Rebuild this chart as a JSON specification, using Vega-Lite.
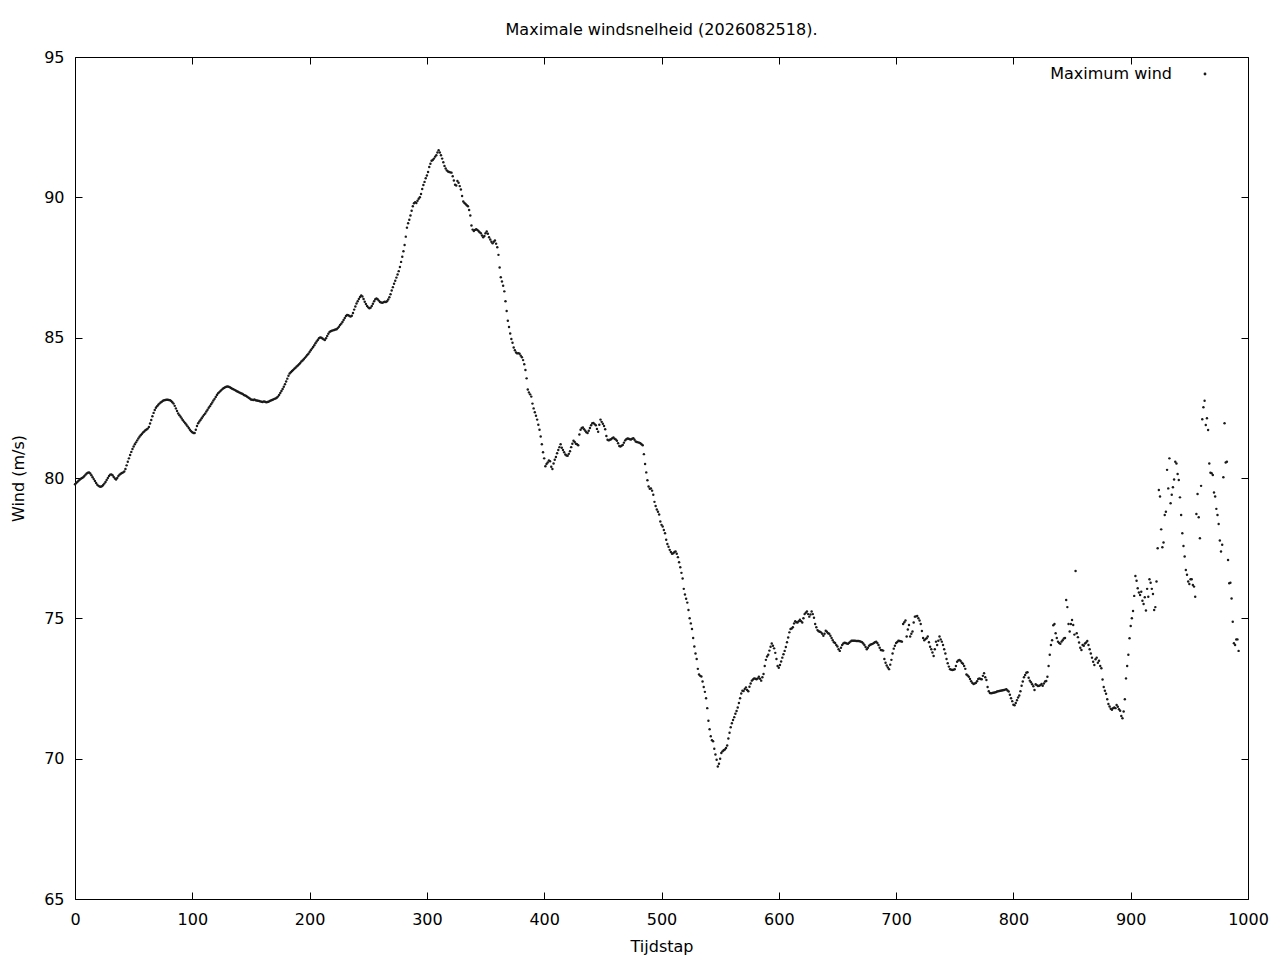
{
  "$schema": "https://vega.github.io/schema/vega-lite/v6.json",
  "width": 1173,
  "height": 842,
  "autosize": "none",
  "padding": {"left": 75, "top": 57, "right": 32, "bottom": 61},
  "background": "white",
  "title": {"text": "Maximale windsnelheid (2026082518).", "font": "DejaVu Sans", "fontSize": 16, "fontWeight": "normal", "color": "#000", "offset": 11},
  "datasets": {
    "wind": [
{"t":0,"w":79.78},{"t":1,"w":79.82},{"t":2,"w":79.86},{"t":3,"w":79.9},{"t":4,"w":79.94},{"t":5,"w":79.97},{"t":6,"w":80.0},{"t":7,"w":80.03},{"t":8,"w":80.07},{"t":9,"w":80.12},
{"t":10,"w":80.16},{"t":11,"w":80.19},{"t":12,"w":80.2},{"t":13,"w":80.16},{"t":14,"w":80.1},{"t":15,"w":80.03},{"t":16,"w":79.96},{"t":17,"w":79.89},{"t":18,"w":79.82},{"t":19,"w":79.76},
{"t":20,"w":79.72},{"t":21,"w":79.7},{"t":22,"w":79.69},{"t":23,"w":79.71},{"t":24,"w":79.75},{"t":25,"w":79.8},{"t":26,"w":79.86},{"t":27,"w":79.93},{"t":28,"w":80.0},{"t":29,"w":80.07},
{"t":30,"w":80.12},{"t":31,"w":80.13},{"t":32,"w":80.1},{"t":33,"w":80.04},{"t":34,"w":79.98},{"t":35,"w":79.95},{"t":36,"w":80.0},{"t":37,"w":80.07},{"t":38,"w":80.12},{"t":39,"w":80.15},
{"t":40,"w":80.18},{"t":41,"w":80.2},{"t":42,"w":80.23},{"t":43,"w":80.32},{"t":44,"w":80.45},{"t":45,"w":80.58},{"t":46,"w":80.7},{"t":47,"w":80.82},{"t":48,"w":80.93},{"t":49,"w":81.03},
{"t":50,"w":81.12},{"t":51,"w":81.2},{"t":52,"w":81.27},{"t":53,"w":81.34},{"t":54,"w":81.41},{"t":55,"w":81.47},{"t":56,"w":81.52},{"t":57,"w":81.57},{"t":58,"w":81.62},{"t":59,"w":81.66},
{"t":60,"w":81.7},{"t":61,"w":81.73},{"t":62,"w":81.76},{"t":63,"w":81.82},{"t":64,"w":81.94},{"t":65,"w":82.07},{"t":66,"w":82.2},{"t":67,"w":82.32},{"t":68,"w":82.42},{"t":69,"w":82.5},
{"t":70,"w":82.56},{"t":71,"w":82.61},{"t":72,"w":82.65},{"t":73,"w":82.69},{"t":74,"w":82.72},{"t":75,"w":82.75},{"t":76,"w":82.77},{"t":77,"w":82.78},{"t":78,"w":82.79},{"t":79,"w":82.79},
{"t":80,"w":82.78},{"t":81,"w":82.77},{"t":82,"w":82.74},{"t":83,"w":82.7},{"t":84,"w":82.65},{"t":85,"w":82.57},{"t":86,"w":82.48},{"t":87,"w":82.39},{"t":88,"w":82.3},{"t":89,"w":82.24},
{"t":90,"w":82.18},{"t":91,"w":82.12},{"t":92,"w":82.06},{"t":93,"w":82.0},{"t":94,"w":81.95},{"t":95,"w":81.9},{"t":96,"w":81.84},{"t":97,"w":81.78},{"t":98,"w":81.72},{"t":99,"w":81.67},
{"t":100,"w":81.63},{"t":101,"w":81.6},{"t":102,"w":81.6},{"t":103,"w":81.72},{"t":104,"w":81.85},{"t":105,"w":81.95},{"t":106,"w":82.01},{"t":107,"w":82.07},{"t":108,"w":82.13},{"t":109,"w":82.19},
{"t":110,"w":82.25},{"t":111,"w":82.3},{"t":112,"w":82.37},{"t":113,"w":82.43},{"t":114,"w":82.5},{"t":115,"w":82.56},{"t":116,"w":82.63},{"t":117,"w":82.69},{"t":118,"w":82.76},{"t":119,"w":82.82},
{"t":120,"w":82.89},{"t":121,"w":82.96},{"t":122,"w":83.02},{"t":123,"w":83.06},{"t":124,"w":83.1},{"t":125,"w":83.14},{"t":126,"w":83.18},{"t":127,"w":83.21},{"t":128,"w":83.23},{"t":129,"w":83.25},
{"t":130,"w":83.26},{"t":131,"w":83.25},{"t":132,"w":83.23},{"t":133,"w":83.21},{"t":134,"w":83.18},{"t":135,"w":83.16},{"t":136,"w":83.14},{"t":137,"w":83.12},{"t":138,"w":83.09},{"t":139,"w":83.07},
{"t":140,"w":83.05},{"t":141,"w":83.03},{"t":142,"w":83.01},{"t":143,"w":82.99},{"t":144,"w":82.96},{"t":145,"w":82.94},{"t":146,"w":82.92},{"t":147,"w":82.89},{"t":148,"w":82.86},{"t":149,"w":82.83},
{"t":150,"w":82.8},{"t":151,"w":82.79},{"t":152,"w":82.78},{"t":153,"w":82.8},{"t":154,"w":82.77},{"t":155,"w":82.76},{"t":156,"w":82.75},{"t":157,"w":82.74},{"t":158,"w":82.73},{"t":159,"w":82.72},
{"t":160,"w":82.71},{"t":161,"w":82.73},{"t":162,"w":82.72},{"t":163,"w":82.7},{"t":164,"w":82.71},{"t":165,"w":82.72},{"t":166,"w":82.74},{"t":167,"w":82.76},{"t":168,"w":82.78},{"t":169,"w":82.8},
{"t":170,"w":82.82},{"t":171,"w":82.83},{"t":172,"w":82.86},{"t":173,"w":82.9},{"t":174,"w":82.96},{"t":175,"w":83.03},{"t":176,"w":83.1},{"t":177,"w":83.17},{"t":178,"w":83.25},{"t":179,"w":83.34},
{"t":180,"w":83.44},{"t":181,"w":83.54},{"t":182,"w":83.64},{"t":183,"w":83.72},{"t":184,"w":83.77},{"t":185,"w":83.81},{"t":186,"w":83.85},{"t":187,"w":83.89},{"t":188,"w":83.93},{"t":189,"w":83.97},
{"t":190,"w":84.01},{"t":191,"w":84.05},{"t":192,"w":84.1},{"t":193,"w":84.15},{"t":194,"w":84.19},{"t":195,"w":84.23},{"t":196,"w":84.28},{"t":197,"w":84.33},{"t":198,"w":84.38},{"t":199,"w":84.43},
{"t":200,"w":84.49},{"t":201,"w":84.55},{"t":202,"w":84.61},{"t":203,"w":84.67},{"t":204,"w":84.73},{"t":205,"w":84.8},{"t":206,"w":84.86},{"t":207,"w":84.92},{"t":208,"w":84.98},{"t":209,"w":85.01},
{"t":210,"w":85.0},{"t":211,"w":84.97},{"t":212,"w":84.94},{"t":213,"w":84.92},{"t":214,"w":84.98},{"t":215,"w":85.06},{"t":216,"w":85.14},{"t":217,"w":85.2},{"t":218,"w":85.23},{"t":219,"w":85.25},
{"t":220,"w":85.26},{"t":221,"w":85.27},{"t":222,"w":85.29},{"t":223,"w":85.3},{"t":224,"w":85.34},{"t":225,"w":85.39},{"t":226,"w":85.45},{"t":227,"w":85.5},{"t":228,"w":85.56},{"t":229,"w":85.63},
{"t":230,"w":85.7},{"t":231,"w":85.77},{"t":232,"w":85.81},{"t":233,"w":85.8},{"t":234,"w":85.77},{"t":235,"w":85.75},{"t":236,"w":85.78},{"t":237,"w":85.88},{"t":238,"w":86.0},{"t":239,"w":86.11},
{"t":240,"w":86.22},{"t":241,"w":86.3},{"t":242,"w":86.38},{"t":243,"w":86.45},{"t":244,"w":86.5},{"t":245,"w":86.47},{"t":246,"w":86.38},{"t":247,"w":86.28},{"t":248,"w":86.2},{"t":249,"w":86.13},
{"t":250,"w":86.08},{"t":251,"w":86.05},{"t":252,"w":86.07},{"t":253,"w":86.13},{"t":254,"w":86.21},{"t":255,"w":86.3},{"t":256,"w":86.37},{"t":257,"w":86.4},{"t":258,"w":86.37},{"t":259,"w":86.32},
{"t":260,"w":86.27},{"t":261,"w":86.25},{"t":262,"w":86.24},{"t":263,"w":86.26},{"t":264,"w":86.28},{"t":265,"w":86.27},{"t":266,"w":86.3},{"t":267,"w":86.36},{"t":268,"w":86.44},{"t":269,"w":86.55},
{"t":270,"w":86.68},{"t":271,"w":86.8},{"t":272,"w":86.92},{"t":273,"w":87.03},{"t":274,"w":87.14},{"t":275,"w":87.25},{"t":276,"w":87.37},{"t":277,"w":87.52},{"t":278,"w":87.7},{"t":279,"w":87.88},
{"t":280,"w":88.08},{"t":281,"w":88.3},{"t":282,"w":88.6},{"t":283,"w":88.92},{"t":284,"w":89.08},{"t":285,"w":89.2},{"t":286,"w":89.35},{"t":287,"w":89.52},{"t":288,"w":89.68},{"t":289,"w":89.79},
{"t":290,"w":89.83},{"t":291,"w":89.8},{"t":292,"w":89.88},{"t":293,"w":89.95},{"t":294,"w":90.0},{"t":295,"w":90.12},{"t":296,"w":90.3},{"t":297,"w":90.44},{"t":298,"w":90.55},{"t":299,"w":90.68},
{"t":300,"w":90.78},{"t":301,"w":90.9},{"t":302,"w":91.08},{"t":303,"w":91.2},{"t":304,"w":91.3},{"t":305,"w":91.33},{"t":306,"w":91.38},{"t":307,"w":91.45},{"t":308,"w":91.5},{"t":309,"w":91.6},
{"t":310,"w":91.68},{"t":311,"w":91.6},{"t":312,"w":91.5},{"t":313,"w":91.38},{"t":314,"w":91.25},{"t":315,"w":91.12},{"t":316,"w":91.03},{"t":317,"w":90.96},{"t":318,"w":90.92},{"t":319,"w":90.9},
{"t":320,"w":90.89},{"t":321,"w":90.88},{"t":322,"w":90.75},{"t":323,"w":90.6},{"t":324,"w":90.45},{"t":325,"w":90.42},{"t":326,"w":90.58},{"t":327,"w":90.52},{"t":328,"w":90.4},{"t":329,"w":90.28},
{"t":330,"w":90.05},{"t":331,"w":89.85},{"t":332,"w":89.8},{"t":333,"w":89.76},{"t":334,"w":89.72},{"t":335,"w":89.68},{"t":336,"w":89.55},{"t":337,"w":89.35},{"t":338,"w":89.0},{"t":339,"w":88.85},
{"t":340,"w":88.8},{"t":341,"w":88.84},{"t":342,"w":88.86},{"t":343,"w":88.84},{"t":344,"w":88.8},{"t":345,"w":88.76},{"t":346,"w":88.72},{"t":347,"w":88.64},{"t":348,"w":88.58},{"t":349,"w":88.62},
{"t":350,"w":88.72},{"t":351,"w":88.78},{"t":352,"w":88.7},{"t":353,"w":88.58},{"t":354,"w":88.5},{"t":355,"w":88.42},{"t":356,"w":88.36},{"t":357,"w":88.42},{"t":358,"w":88.46},{"t":359,"w":88.35},
{"t":360,"w":88.22},{"t":361,"w":87.95},{"t":362,"w":87.5},{"t":363,"w":87.15},{"t":364,"w":87.0},{"t":365,"w":86.85},{"t":366,"w":86.65},{"t":367,"w":86.3},{"t":368,"w":85.95},{"t":369,"w":85.6},
{"t":370,"w":85.38},{"t":371,"w":85.15},{"t":372,"w":84.95},{"t":373,"w":84.82},{"t":374,"w":84.65},{"t":375,"w":84.55},{"t":376,"w":84.47},{"t":377,"w":84.44},{"t":378,"w":84.45},{"t":379,"w":84.43},
{"t":380,"w":84.36},{"t":381,"w":84.3},{"t":382,"w":84.2},{"t":383,"w":84.05},{"t":384,"w":83.85},{"t":385,"w":83.55},{"t":386,"w":83.15},{"t":387,"w":83.05},{"t":388,"w":82.98},{"t":389,"w":82.9},
{"t":390,"w":82.65},{"t":391,"w":82.48},{"t":392,"w":82.34},{"t":393,"w":82.22},{"t":394,"w":82.08},{"t":395,"w":81.9},{"t":396,"w":81.72},{"t":397,"w":81.48},{"t":398,"w":81.2},{"t":399,"w":80.92},
{"t":400,"w":80.7},{"t":401,"w":80.42},{"t":402,"w":80.5},{"t":403,"w":80.55},{"t":404,"w":80.62},{"t":405,"w":80.6},{"t":406,"w":80.4},{"t":407,"w":80.32},{"t":408,"w":80.52},{"t":409,"w":80.65},
{"t":410,"w":80.75},{"t":411,"w":80.88},{"t":412,"w":81.0},{"t":413,"w":81.1},{"t":414,"w":81.2},{"t":415,"w":81.08},{"t":416,"w":81.0},{"t":417,"w":80.92},{"t":418,"w":80.84},{"t":419,"w":80.8},
{"t":420,"w":80.79},{"t":421,"w":80.86},{"t":422,"w":80.95},{"t":423,"w":81.1},{"t":424,"w":81.22},{"t":425,"w":81.33},{"t":426,"w":81.28},{"t":427,"w":81.22},{"t":428,"w":81.2},{"t":429,"w":81.17},
{"t":430,"w":81.55},{"t":431,"w":81.72},{"t":432,"w":81.78},{"t":433,"w":81.8},{"t":434,"w":81.74},{"t":435,"w":81.68},{"t":436,"w":81.63},{"t":437,"w":81.6},{"t":438,"w":81.68},{"t":439,"w":81.78},
{"t":440,"w":81.88},{"t":441,"w":81.95},{"t":442,"w":81.96},{"t":443,"w":81.92},{"t":444,"w":81.88},{"t":445,"w":81.75},{"t":446,"w":81.65},{"t":447,"w":81.9},{"t":448,"w":82.08},{"t":449,"w":82.0},
{"t":450,"w":81.93},{"t":451,"w":81.85},{"t":452,"w":81.74},{"t":453,"w":81.5},{"t":454,"w":81.36},{"t":455,"w":81.34},{"t":456,"w":81.36},{"t":457,"w":81.38},{"t":458,"w":81.42},{"t":459,"w":81.44},
{"t":460,"w":81.4},{"t":461,"w":81.37},{"t":462,"w":81.33},{"t":463,"w":81.24},{"t":464,"w":81.14},{"t":465,"w":81.12},{"t":466,"w":81.15},{"t":467,"w":81.18},{"t":468,"w":81.26},{"t":469,"w":81.34},
{"t":470,"w":81.38},{"t":471,"w":81.41},{"t":472,"w":81.4},{"t":473,"w":81.38},{"t":474,"w":81.37},{"t":475,"w":81.4},{"t":476,"w":81.42},{"t":477,"w":81.36},{"t":478,"w":81.3},{"t":479,"w":81.28},
{"t":480,"w":81.27},{"t":481,"w":81.26},{"t":482,"w":81.24},{"t":483,"w":81.2},{"t":484,"w":81.17},{"t":485,"w":80.85},{"t":486,"w":80.5},{"t":487,"w":80.2},{"t":488,"w":79.92},{"t":489,"w":79.7},
{"t":490,"w":79.62},{"t":491,"w":79.63},{"t":492,"w":79.55},{"t":493,"w":79.4},{"t":494,"w":79.15},{"t":495,"w":79.0},{"t":496,"w":78.88},{"t":497,"w":78.8},{"t":498,"w":78.7},{"t":499,"w":78.45},
{"t":500,"w":78.33},{"t":501,"w":78.27},{"t":502,"w":78.15},{"t":503,"w":78.03},{"t":504,"w":77.8},{"t":505,"w":77.65},{"t":506,"w":77.55},{"t":507,"w":77.44},{"t":508,"w":77.36},{"t":509,"w":77.3},
{"t":510,"w":77.32},{"t":511,"w":77.36},{"t":512,"w":77.38},{"t":513,"w":77.3},{"t":514,"w":77.18},{"t":515,"w":77.0},{"t":516,"w":76.82},{"t":517,"w":76.62},{"t":518,"w":76.42},{"t":519,"w":76.05},
{"t":520,"w":75.85},{"t":521,"w":75.7},{"t":522,"w":75.56},{"t":523,"w":75.3},{"t":524,"w":75.0},{"t":525,"w":74.82},{"t":526,"w":74.62},{"t":527,"w":74.3},{"t":528,"w":74.0},{"t":529,"w":73.75},
{"t":530,"w":73.55},{"t":531,"w":73.2},{"t":532,"w":73.0},{"t":533,"w":72.95},{"t":534,"w":72.93},{"t":535,"w":72.75},{"t":536,"w":72.55},{"t":537,"w":72.38},{"t":538,"w":72.15},{"t":539,"w":71.8},
{"t":540,"w":71.35},{"t":541,"w":71.05},{"t":542,"w":70.8},{"t":543,"w":70.66},{"t":544,"w":70.62},{"t":545,"w":70.35},{"t":546,"w":70.15},{"t":547,"w":69.96},{"t":548,"w":69.72},{"t":549,"w":69.82},
{"t":550,"w":70.0},{"t":551,"w":70.2},{"t":552,"w":70.26},{"t":553,"w":70.3},{"t":554,"w":70.33},{"t":555,"w":70.38},{"t":556,"w":70.47},{"t":557,"w":70.72},{"t":558,"w":70.92},{"t":559,"w":71.12},
{"t":560,"w":71.26},{"t":561,"w":71.38},{"t":562,"w":71.48},{"t":563,"w":71.6},{"t":564,"w":71.7},{"t":565,"w":71.82},{"t":566,"w":71.98},{"t":567,"w":72.15},{"t":568,"w":72.32},{"t":569,"w":72.42},
{"t":570,"w":72.41},{"t":571,"w":72.48},{"t":572,"w":72.54},{"t":573,"w":72.45},{"t":574,"w":72.4},{"t":575,"w":72.56},{"t":576,"w":72.68},{"t":577,"w":72.78},{"t":578,"w":72.82},{"t":579,"w":72.86},
{"t":580,"w":72.85},{"t":581,"w":72.83},{"t":582,"w":72.86},{"t":583,"w":72.92},{"t":584,"w":72.85},{"t":585,"w":72.78},{"t":586,"w":72.9},{"t":587,"w":73.02},{"t":588,"w":73.3},{"t":589,"w":73.52},
{"t":590,"w":73.64},{"t":591,"w":73.7},{"t":592,"w":73.85},{"t":593,"w":73.99},{"t":594,"w":74.1},{"t":595,"w":74.02},{"t":596,"w":73.93},{"t":597,"w":73.77},{"t":598,"w":73.55},{"t":599,"w":73.3},
{"t":600,"w":73.24},{"t":601,"w":73.34},{"t":602,"w":73.46},{"t":603,"w":73.6},{"t":604,"w":73.72},{"t":605,"w":73.84},{"t":606,"w":73.98},{"t":607,"w":74.15},{"t":608,"w":74.32},{"t":609,"w":74.5},
{"t":610,"w":74.62},{"t":611,"w":74.64},{"t":612,"w":74.68},{"t":613,"w":74.82},{"t":614,"w":74.9},{"t":615,"w":74.86},{"t":616,"w":74.85},{"t":617,"w":74.9},{"t":618,"w":74.95},{"t":619,"w":74.9},
{"t":620,"w":74.85},{"t":621,"w":75.0},{"t":622,"w":75.15},{"t":623,"w":75.2},{"t":624,"w":75.24},{"t":625,"w":75.15},{"t":626,"w":75.06},{"t":627,"w":75.14},{"t":628,"w":75.24},{"t":629,"w":75.15},
{"t":630,"w":75.02},{"t":631,"w":74.8},{"t":632,"w":74.68},{"t":633,"w":74.58},{"t":634,"w":74.54},{"t":635,"w":74.52},{"t":636,"w":74.5},{"t":637,"w":74.45},{"t":638,"w":74.38},{"t":639,"w":74.45},
{"t":640,"w":74.56},{"t":641,"w":74.52},{"t":642,"w":74.47},{"t":643,"w":74.45},{"t":644,"w":74.38},{"t":645,"w":74.3},{"t":646,"w":74.22},{"t":647,"w":74.15},{"t":648,"w":74.12},{"t":649,"w":74.05},
{"t":650,"w":74.0},{"t":651,"w":73.9},{"t":652,"w":73.84},{"t":653,"w":73.95},{"t":654,"w":74.05},{"t":655,"w":74.1},{"t":656,"w":74.13},{"t":657,"w":74.12},{"t":658,"w":74.1},{"t":659,"w":74.09},
{"t":660,"w":74.13},{"t":661,"w":74.17},{"t":662,"w":74.2},{"t":663,"w":74.2},{"t":664,"w":74.2},{"t":665,"w":74.2},{"t":666,"w":74.19},{"t":667,"w":74.19},{"t":668,"w":74.19},{"t":669,"w":74.18},
{"t":670,"w":74.17},{"t":671,"w":74.15},{"t":672,"w":74.1},{"t":673,"w":74.05},{"t":674,"w":73.98},{"t":675,"w":73.9},{"t":676,"w":73.95},{"t":677,"w":74.02},{"t":678,"w":74.06},{"t":679,"w":74.08},
{"t":680,"w":74.09},{"t":681,"w":74.12},{"t":682,"w":74.15},{"t":683,"w":74.17},{"t":684,"w":74.12},{"t":685,"w":74.05},{"t":686,"w":73.95},{"t":687,"w":73.87},{"t":688,"w":73.86},{"t":689,"w":73.85},
{"t":690,"w":73.55},{"t":691,"w":73.42},{"t":692,"w":73.32},{"t":693,"w":73.25},{"t":694,"w":73.19},{"t":695,"w":73.35},{"t":696,"w":73.52},{"t":697,"w":73.75},{"t":698,"w":73.92},{"t":699,"w":74.02},
{"t":700,"w":74.12},{"t":701,"w":74.16},{"t":702,"w":74.2},{"t":703,"w":74.19},{"t":704,"w":74.18},{"t":705,"w":74.17},{"t":706,"w":74.8},{"t":707,"w":74.86},{"t":708,"w":74.92},{"t":709,"w":74.35},
{"t":710,"w":74.6},{"t":711,"w":74.76},{"t":712,"w":74.35},{"t":713,"w":74.45},{"t":714,"w":74.53},{"t":715,"w":74.85},{"t":716,"w":75.06},{"t":717,"w":75.07},{"t":718,"w":75.08},{"t":719,"w":75.0},
{"t":720,"w":74.92},{"t":721,"w":74.8},{"t":722,"w":74.55},{"t":723,"w":74.3},{"t":724,"w":74.22},{"t":725,"w":74.26},{"t":726,"w":74.29},{"t":727,"w":74.35},{"t":728,"w":74.15},{"t":729,"w":73.99},
{"t":730,"w":73.9},{"t":731,"w":73.78},{"t":732,"w":73.66},{"t":733,"w":73.9},{"t":734,"w":74.17},{"t":735,"w":74.05},{"t":736,"w":74.2},{"t":737,"w":74.35},{"t":738,"w":74.25},{"t":739,"w":74.17},
{"t":740,"w":74.05},{"t":741,"w":73.9},{"t":742,"w":73.75},{"t":743,"w":73.55},{"t":744,"w":73.4},{"t":745,"w":73.28},{"t":746,"w":73.19},{"t":747,"w":73.17},{"t":748,"w":73.16},{"t":749,"w":73.17},
{"t":750,"w":73.19},{"t":751,"w":73.3},{"t":752,"w":73.45},{"t":753,"w":73.5},{"t":754,"w":73.52},{"t":755,"w":73.48},{"t":756,"w":73.42},{"t":757,"w":73.38},{"t":758,"w":73.3},{"t":759,"w":73.2},
{"t":760,"w":73.0},{"t":761,"w":72.96},{"t":762,"w":72.92},{"t":763,"w":72.84},{"t":764,"w":72.76},{"t":765,"w":72.7},{"t":766,"w":72.66},{"t":767,"w":72.68},{"t":768,"w":72.7},{"t":769,"w":72.76},
{"t":770,"w":72.84},{"t":771,"w":72.86},{"t":772,"w":72.84},{"t":773,"w":72.83},{"t":774,"w":72.95},{"t":775,"w":73.04},{"t":776,"w":72.9},{"t":777,"w":72.8},{"t":778,"w":72.55},{"t":779,"w":72.4},
{"t":780,"w":72.34},{"t":781,"w":72.33},{"t":782,"w":72.34},{"t":783,"w":72.35},{"t":784,"w":72.36},{"t":785,"w":72.37},{"t":786,"w":72.39},{"t":787,"w":72.4},{"t":788,"w":72.41},{"t":789,"w":72.42},
{"t":790,"w":72.43},{"t":791,"w":72.44},{"t":792,"w":72.45},{"t":793,"w":72.46},{"t":794,"w":72.47},{"t":795,"w":72.43},{"t":796,"w":72.39},{"t":797,"w":72.28},{"t":798,"w":72.15},{"t":799,"w":72.05},
{"t":800,"w":71.92},{"t":801,"w":71.9},{"t":802,"w":71.98},{"t":803,"w":72.08},{"t":804,"w":72.18},{"t":805,"w":72.25},{"t":806,"w":72.4},{"t":807,"w":72.6},{"t":808,"w":72.75},{"t":809,"w":72.9},
{"t":810,"w":72.98},{"t":811,"w":73.06},{"t":812,"w":73.08},{"t":813,"w":72.88},{"t":814,"w":72.78},{"t":815,"w":72.72},{"t":816,"w":72.65},{"t":817,"w":72.58},{"t":818,"w":72.45},{"t":819,"w":72.65},
{"t":820,"w":72.62},{"t":821,"w":72.59},{"t":822,"w":72.6},{"t":823,"w":72.62},{"t":824,"w":72.66},{"t":825,"w":72.6},{"t":826,"w":72.68},{"t":827,"w":72.75},{"t":828,"w":72.77},{"t":829,"w":72.92},
{"t":830,"w":73.3},{"t":831,"w":73.7},{"t":832,"w":74.05},{"t":833,"w":74.22},{"t":834,"w":74.75},{"t":835,"w":74.8},{"t":836,"w":74.47},{"t":837,"w":74.3},{"t":838,"w":74.17},{"t":839,"w":74.12},
{"t":840,"w":74.09},{"t":841,"w":74.17},{"t":842,"w":74.22},{"t":843,"w":74.28},{"t":844,"w":74.3},{"t":845,"w":75.65},{"t":846,"w":75.4},{"t":847,"w":74.8},{"t":848,"w":74.53},{"t":849,"w":74.8},
{"t":850,"w":74.94},{"t":851,"w":74.76},{"t":852,"w":74.42},{"t":853,"w":76.69},{"t":854,"w":74.47},{"t":855,"w":74.33},{"t":856,"w":74.14},{"t":857,"w":73.95},{"t":858,"w":73.87},{"t":859,"w":74.05},
{"t":860,"w":74.02},{"t":861,"w":74.1},{"t":862,"w":74.14},{"t":863,"w":74.19},{"t":864,"w":74.05},{"t":865,"w":73.9},{"t":866,"w":73.75},{"t":867,"w":73.6},{"t":868,"w":73.45},{"t":869,"w":73.34},
{"t":870,"w":73.54},{"t":871,"w":73.6},{"t":872,"w":73.42},{"t":873,"w":73.49},{"t":874,"w":73.3},{"t":875,"w":73.22},{"t":876,"w":72.82},{"t":877,"w":72.55},{"t":878,"w":72.42},{"t":879,"w":72.31},
{"t":880,"w":72.12},{"t":881,"w":71.95},{"t":882,"w":71.86},{"t":883,"w":71.78},{"t":884,"w":71.74},{"t":885,"w":71.8},{"t":886,"w":71.82},{"t":887,"w":71.8},{"t":888,"w":71.91},{"t":889,"w":71.85},
{"t":890,"w":71.76},{"t":891,"w":71.71},{"t":892,"w":71.52},{"t":893,"w":71.44},{"t":894,"w":71.68},{"t":895,"w":72.12},{"t":896,"w":72.86},{"t":897,"w":73.3},{"t":898,"w":73.7},{"t":899,"w":74.29},
{"t":900,"w":74.73},{"t":901,"w":75.0},{"t":902,"w":75.26},{"t":903,"w":75.8},{"t":904,"w":76.51},{"t":905,"w":76.34},{"t":906,"w":76.07},{"t":907,"w":75.92},{"t":908,"w":75.83},{"t":909,"w":75.95},
{"t":910,"w":75.63},{"t":911,"w":75.51},{"t":912,"w":75.75},{"t":913,"w":75.28},{"t":914,"w":76.05},{"t":915,"w":75.77},{"t":916,"w":76.39},{"t":917,"w":76.27},{"t":918,"w":76.05},{"t":919,"w":75.87},
{"t":920,"w":75.3},{"t":921,"w":75.4},{"t":922,"w":76.31},{"t":923,"w":77.5},{"t":924,"w":79.57},{"t":925,"w":79.34},{"t":926,"w":78.17},{"t":927,"w":77.53},{"t":928,"w":77.7},{"t":929,"w":78.68},
{"t":930,"w":78.8},{"t":931,"w":80.29},{"t":932,"w":79.63},{"t":933,"w":80.7},{"t":934,"w":79.1},{"t":935,"w":79.4},{"t":936,"w":79.67},{"t":937,"w":79.95},{"t":938,"w":80.58},{"t":939,"w":80.52},
{"t":940,"w":80.14},{"t":941,"w":79.93},{"t":942,"w":79.31},{"t":943,"w":78.68},{"t":944,"w":78.03},{"t":945,"w":77.58},{"t":946,"w":77.2},{"t":947,"w":76.72},{"t":948,"w":76.55},{"t":949,"w":76.31},
{"t":950,"w":76.22},{"t":951,"w":76.39},{"t":952,"w":76.39},{"t":953,"w":76.19},{"t":954,"w":76.13},{"t":955,"w":75.77},{"t":956,"w":78.72},{"t":957,"w":79.43},{"t":958,"w":78.6},{"t":959,"w":77.85},
{"t":960,"w":79.72},{"t":961,"w":82.09},{"t":962,"w":82.52},{"t":963,"w":82.75},{"t":964,"w":81.89},{"t":965,"w":82.13},{"t":966,"w":81.71},{"t":967,"w":80.52},{"t":968,"w":80.19},{"t":969,"w":80.17},
{"t":970,"w":80.11},{"t":971,"w":79.48},{"t":972,"w":79.34},{"t":973,"w":78.9},{"t":974,"w":78.68},{"t":975,"w":78.36},{"t":976,"w":77.77},{"t":977,"w":77.38},{"t":978,"w":77.62},{"t":979,"w":80.03},
{"t":980,"w":81.95},{"t":981,"w":80.55},{"t":982,"w":80.58},{"t":983,"w":77.08},{"t":984,"w":76.25},{"t":985,"w":76.27},{"t":986,"w":75.71},{"t":987,"w":74.88},{"t":988,"w":74.11},{"t":989,"w":74.05},
{"t":990,"w":74.25},{"t":991,"w":74.25},{"t":992,"w":73.84}
    ],
    "frame": [{"t": 0, "w": 65}]
  },
  "layer": [
    {
      "data": {"name": "wind"},
      "mark": {"type": "circle", "size": 6, "opacity": 1},
      "encoding": {
        "x": {"field": "t", "type": "quantitative", "title": "Tijdstap",
              "scale": {"domain": [0, 1000], "nice": false, "zero": false},
              "axis": {"orient": "bottom", "format": "d", "labelFlush": false, "labelPadding": 19,
                       "values": [0, 100, 200, 300, 400, 500, 600, 700, 800, 900, 1000]}},
        "y": {"field": "w", "type": "quantitative", "title": "Wind (m/s)",
              "scale": {"domain": [65, 95], "nice": false, "zero": false},
              "axis": {"orient": "left", "labelPadding": 18, "values": [65, 70, 75, 80, 85, 90, 95]}},
        "color": {"datum": "Maximum wind", "type": "nominal",
                  "scale": {"range": ["#1a1a1a"]},
                  "legend": {"title": null, "orient": "none", "legendX": 1122, "legendY": 9, "padding": 0,
                             "symbolType": "circle", "symbolSize": 8, "labelAlign": "right", "labelOffset": -41,
                             "labelFont": "DejaVu Sans", "labelFontSize": 16, "labelColor": "#000"}}
      }
    },
    {
      "data": {"name": "frame"},
      "mark": {"type": "point", "opacity": 0},
      "encoding": {
        "x": {"field": "t", "type": "quantitative",
              "axis": {"orient": "top", "title": null, "labels": false, "values": [0, 100, 200, 300, 400, 500, 600, 700, 800, 900, 1000]}},
        "y": {"field": "w", "type": "quantitative",
              "axis": {"orient": "right", "title": null, "labels": false, "values": [65, 70, 75, 80, 85, 90, 95]}}
      }
    }
  ],
  "resolve": {"axis": {"x": "independent", "y": "independent"}},
  "config": {
    "view": {"stroke": "#000", "strokeWidth": 1},
    "axis": {
      "grid": false,
      "domain": false,
      "tickColor": "#000",
      "tickSize": -7,
      "tickWidth": 1,
      "labelFont": "DejaVu Sans",
      "labelFontSize": 16,
      "labelColor": "#000",
      "labelPadding": 16,
      "titleFont": "DejaVu Sans",
      "titleFontSize": 16,
      "titleFontWeight": "normal",
      "titleColor": "#000"
    },
    "axisX": {"titlePadding": 11},
    "axisY": {"titlePadding": 17}
  }
}
